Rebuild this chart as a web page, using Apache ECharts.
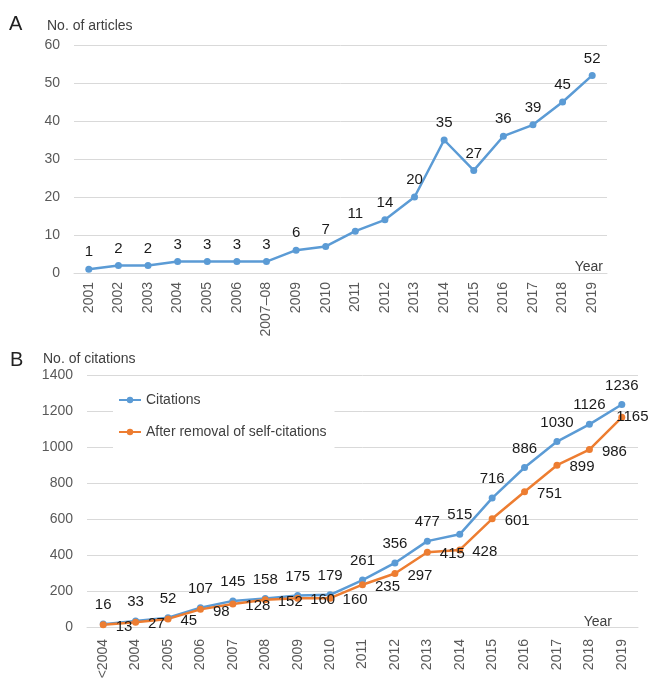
<!DOCTYPE html>
<html>
<head>
<meta charset="utf-8">
<script src="https://cdn.jsdelivr.net/npm/echarts@6/dist/echarts.min.js"></script>
<style>
  html, body { margin: 0; padding: 0; background: #fff; }
  #chart { width: 652px; height: 689px; }
</style>
</head>
<body>
<div id="chart"></div>
<script>
// panel A
var yearsA = ['2001', '2002', '2003', '2004', '2005', '2006', '2007–08', '2009', '2010', '2011',
  '2012', '2013', '2014', '2015', '2016', '2017', '2018', '2019'];
var articles = [1, 2, 2, 3, 3, 3, 3, 6, 7, 11, 14, 20, 35, 27, 36, 39, 45, 52];

// panel B
var yearsB = ['<2004', '2004', '2005', '2006', '2007', '2008', '2009', '2010', '2011', '2012',
  '2013', '2014', '2015', '2016', '2017', '2018', '2019'];
var citations = [16, 33, 52, 107, 145, 158, 175, 179, 261, 356, 477, 515, 716, 886, 1030, 1126, 1236];
var withoutSelf = [13, 27, 45, 98, 128, 152, 160, 160, 235, 297, 415, 428, 601, 751, 899, 986, 1165];

var BLUE = '#5b9bd5', ORANGE = '#ed7d31';
var FONT = 'Liberation Sans';
var gridColor = '#d9d9d9';
var axisText = { color: '#595959', fontSize: 14, fontFamily: FONT };
var dataLabel = { color: '#1a1a1a', fontSize: 15, fontFamily: FONT };

var chart = echarts.init(document.getElementById('chart'));

// last orange label sits tucked under the blue one
var orangeData = withoutSelf.map(function (v, i) {
  if (i == withoutSelf.length - 1) {
    return { value: v, label: { offset: [-18, 0] } };
  }
  return v;
});

function xAxisOf(cats, idx, margin) {
  return {
    type: 'category',
    gridIndex: idx,
    data: cats,
    boundaryGap: true,
    axisLine: { lineStyle: { color: gridColor, width: 1 } },
    axisTick: { show: false },
    axisLabel: Object.assign({ rotate: 90, interval: 0, margin: margin, fontSize: 13 }, axisText)
  };
}

function yAxisOf(idx, max, step) {
  return {
    type: 'value',
    gridIndex: idx,
    min: 0,
    max: max,
    interval: step,
    axisLine: { show: false },
    axisTick: { show: false },
    axisLabel: Object.assign({ margin: 14, formatter: function (v) { return String(v); } }, axisText),
    splitLine: { lineStyle: { color: gridColor, width: 1 } }
  };
}

var option = {
  backgroundColor: '#fff',
  animation: false,
  title: [
    { text: 'A', left: 4, top: 9, textStyle: { fontSize: 20, fontWeight: 'normal', color: '#222', fontFamily: FONT } },
    { text: 'No. of articles', left: 42, top: 14, textStyle: { fontSize: 14, fontWeight: 'normal', color: '#404040', fontFamily: FONT } },
    { text: 'Year', right: 44, top: 255, textStyle: { fontSize: 14, fontWeight: 'normal', color: '#404040', fontFamily: FONT } },
    { text: 'B', left: 5, top: 345, textStyle: { fontSize: 20, fontWeight: 'normal', color: '#222', fontFamily: FONT } },
    { text: 'No. of citations', left: 38, top: 347, textStyle: { fontSize: 14, fontWeight: 'normal', color: '#404040', fontFamily: FONT } },
    { text: 'Year', right: 35, top: 610, textStyle: { fontSize: 14, fontWeight: 'normal', color: '#404040', fontFamily: FONT } }
  ],
  legend: {
    orient: 'vertical',
    left: 113,
    top: 388,
    padding: [5, 8, 12, 5],
    itemGap: 18,
    itemWidth: 22,
    itemHeight: 8,
    backgroundColor: '#fff',
    data: ['Citations', 'After removal of self-citations'],
    textStyle: { fontSize: 14, color: '#404040', fontFamily: FONT }
  },
  grid: [
    { left: 74, right: 45, top: 45, height: 228 },
    { left: 87, right: 14, top: 375, height: 252 }
  ],
  xAxis: [xAxisOf(yearsA, 0, 9), xAxisOf(yearsB, 1, 12)],
  yAxis: [yAxisOf(0, 60, 10), yAxisOf(1, 1400, 200)],
  series: [
    {
      name: 'No. of articles',
      type: 'line',
      xAxisIndex: 0,
      yAxisIndex: 0,
      data: articles,
      symbol: 'circle',
      symbolSize: 7,
      color: BLUE,
      lineStyle: { width: 2.5 },
      label: Object.assign({ show: true, position: 'top', distance: 6 }, dataLabel)
    },
    {
      name: 'Citations',
      type: 'line',
      xAxisIndex: 1,
      yAxisIndex: 1,
      data: citations,
      symbol: 'circle',
      symbolSize: 7,
      color: BLUE,
      lineStyle: { width: 2.5 },
      label: Object.assign({ show: true, position: 'top', distance: 8 }, dataLabel)
    },
    {
      name: 'After removal of self-citations',
      type: 'line',
      xAxisIndex: 1,
      yAxisIndex: 1,
      data: orangeData,
      symbol: 'circle',
      symbolSize: 7,
      color: ORANGE,
      lineStyle: { width: 2.5 },
      label: Object.assign({ show: true, position: 'right', distance: 9, offset: [0, 2] }, dataLabel)
    }
  ]
};

chart.setOption(option);
</script>
</body>
</html>
